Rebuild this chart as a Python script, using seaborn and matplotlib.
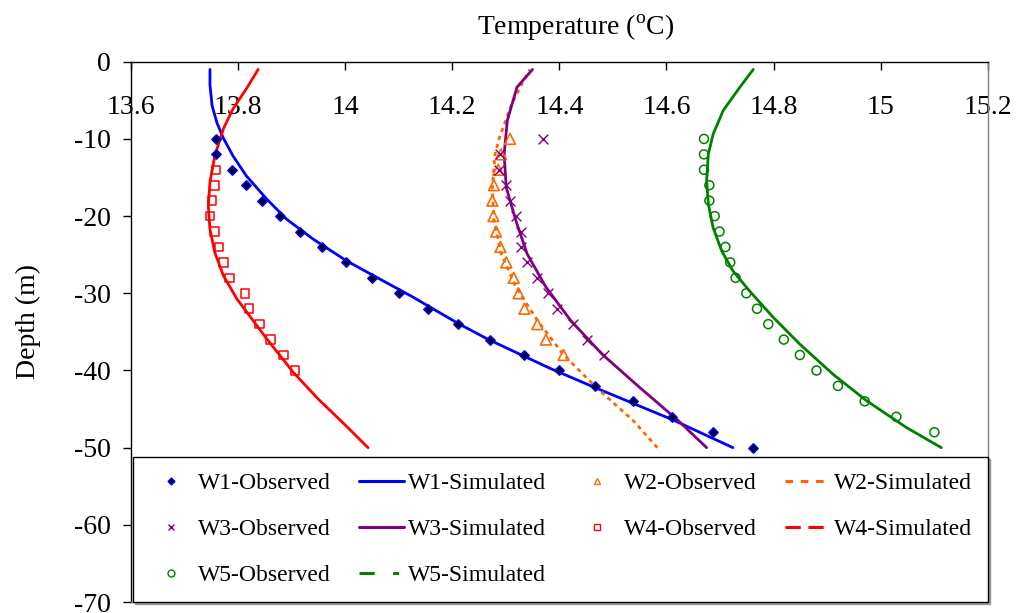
import matplotlib
matplotlib.use("Agg")
import matplotlib.pyplot as plt
from matplotlib.lines import Line2D
import seaborn as sns

# profondeurs des mesures observées (m)
depth_w1 = [-10, -12, -14, -16, -18, -20, -22, -24, -26, -28, -30,
            -32, -34, -36, -38, -40, -42, -44, -46, -48, -50]
depth_w23 = [-10, -12, -14, -16, -18, -20, -22, -24, -26, -28, -30,
             -32, -34, -36, -38]
depth_w4 = [-14, -16, -18, -20, -22, -24, -26, -28, -30, -32, -34,
            -36, -38, -40]
depth_w5 = [-10, -12, -14, -16, -18, -20, -22, -24, -26, -28, -30,
            -32, -34, -36, -38, -40, -42, -44, -46, -48]

# températures observées (°C)
w1_obs = [13.759, 13.759, 13.790, 13.815, 13.846, 13.879, 13.916, 13.958,
          14.002, 14.050, 14.101, 14.155, 14.211, 14.270, 14.334, 14.399,
          14.466, 14.537, 14.611, 14.686, 14.762]
w2_obs = [14.308, 14.291, 14.286, 14.278, 14.275, 14.277, 14.282, 14.290,
          14.301, 14.315, 14.324, 14.335, 14.359, 14.375, 14.408]
w3_obs = [14.370, 14.289, 14.288, 14.300, 14.308, 14.319, 14.328, 14.328,
          14.339, 14.359, 14.378, 14.396, 14.425, 14.452, 14.483]
w4_obs = [13.759, 13.757, 13.752, 13.748, 13.757, 13.765, 13.773, 13.784,
          13.813, 13.821, 13.840, 13.861, 13.885, 13.907]
w5_obs = [14.670, 14.670, 14.670, 14.680, 14.680, 14.690, 14.699, 14.710,
          14.719, 14.729, 14.749, 14.769, 14.790, 14.819, 14.849, 14.880,
          14.920, 14.970, 15.029, 15.100]

# courbes simulées (profondeur, température)
w1_sim_depth = [-1, -3, -5.7, -7.9, -9.9, -12.2, -14.8, -17.8, -20.4, -23.0,
                -25.8, -27.7, -30.5, -33.9, -36, -39.7, -42.2, -46.4, -50]
w1_sim = [13.748, 13.748, 13.752, 13.761, 13.773, 13.791, 13.816, 13.854,
          13.891, 13.941, 14.003, 14.053, 14.127, 14.211, 14.268, 14.382,
          14.466, 14.612, 14.724]
w2_sim_depth = [-1, -2.5, -5.5, -9.9, -12, -16.3, -20.6, -24.9, -29.2, -33.5,
                -37.9, -42.2, -46.5, -50]
w2_sim = [14.345, 14.333, 14.311, 14.288, 14.280, 14.275, 14.278, 14.292,
          14.319, 14.359, 14.407, 14.469, 14.538, 14.583]
w3_sim_depth = [-1, -3.3, -7.6, -12, -16.3, -20.6, -24.9, -29.2, -33.5,
                -37.9, -42.2, -46.5, -50]
w3_sim = [14.350, 14.321, 14.303, 14.297, 14.301, 14.319, 14.340, 14.375,
          14.421, 14.480, 14.550, 14.622, 14.675]
w4_sim_depth = [-1, -3.5, -6.1, -8.7, -12.2, -15.6, -18.7, -21.7, -24.7,
                -27.7, -30.7, -35.9, -40.2, -43.7, -46.9, -50]
w4_sim = [13.838, 13.816, 13.791, 13.773, 13.757, 13.748, 13.745, 13.748,
          13.757, 13.773, 13.798, 13.854, 13.903, 13.950, 13.998, 14.043]
w5_sim_depth = [-1, -3.3, -6.3, -9.4, -12.0, -15.4, -18.4, -21.5, -24.5,
                -27.1, -29.7, -33.1, -36.6, -40.5, -43.9, -47.4, -50]
w5_sim = [14.762, 14.737, 14.706, 14.687, 14.678, 14.675, 14.678, 14.687,
          14.703, 14.724, 14.755, 14.799, 14.849, 14.911, 14.973, 15.048,
          15.113]

x_ticks = [13.6, 13.8, 14.0, 14.2, 14.4, 14.6, 14.8, 15.0, 15.2]
x_labels = ["13.6", "13.8", "14", "14.2", "14.4", "14.6", "14.8", "15", "15.2"]
y_ticks = [0, -10, -20, -30, -40, -50, -60, -70]

BLUE, ORANGE, PURPLE, RED, GREEN = "#0000ff", "#ff6600", "#800080", "#ff0000", "#008000"

sns.set_theme(style="white")
plt.rcParams["font.family"] = ["Liberation Serif", "DejaVu Serif"]
plt.rcParams["mathtext.fontset"] = "custom"
plt.rcParams["mathtext.rm"] = "Liberation Serif"
plt.rcParams["axes.unicode_minus"] = False

fig = plt.figure(figsize=(10.16, 6.13), dpi=100)
ax = fig.add_axes([0.1286, 0.0179, 0.8438, 0.8814])

# courbes simulées
sns.lineplot(x=w1_sim, y=w1_sim_depth, orient="y", estimator=None, color=BLUE, lw=2, ax=ax)
sns.lineplot(x=w2_sim, y=w2_sim_depth, orient="y", estimator=None, color=ORANGE, lw=2,
             linestyle=(0, (1.5, 1.5)), ax=ax)
sns.lineplot(x=w3_sim, y=w3_sim_depth, orient="y", estimator=None, color=PURPLE, lw=2, ax=ax)
sns.lineplot(x=w4_sim, y=w4_sim_depth, orient="y", estimator=None, color=RED, lw=2, ax=ax)
sns.lineplot(x=w5_sim, y=w5_sim_depth, orient="y", estimator=None, color=GREEN, lw=2, ax=ax)

# points observés
sns.scatterplot(x=w1_obs, y=depth_w1, marker="D", s=22, color="black", edgecolor=BLUE,
                linewidth=1.2, zorder=3, ax=ax)
sns.scatterplot(x=w2_obs, y=depth_w23, marker="^", s=60, facecolor="none",
                edgecolor=ORANGE, linewidth=1.2, zorder=3, ax=ax)
sns.scatterplot(x=w3_obs, y=depth_w23, marker="x", s=50, color=PURPLE, linewidth=1.0,
                zorder=3, ax=ax)
sns.scatterplot(x=w4_obs, y=depth_w4, marker="s", s=38, facecolor="none",
                edgecolor=RED, linewidth=1.1, zorder=3, ax=ax)
sns.scatterplot(x=w5_obs, y=depth_w5, marker="o", s=42, facecolor="none",
                edgecolor=GREEN, linewidth=1.1, zorder=3, ax=ax)

# axes
ax.set_xlim(13.6, 15.2)
ax.set_ylim(-70, 0)
ax.set_xticks(x_ticks)
ax.set_xticklabels(x_labels)
ax.set_yticks(y_ticks)
ax.xaxis.tick_top()
ax.tick_params(axis="x", top=True, bottom=False, labeltop=True, labelbottom=False,
               direction="in", length=5.8, width=1, pad=-42, labelsize=20,
               colors="black")
ax.tick_params(axis="y", left=True, direction="out", length=5.5, width=1, pad=9,
               labelsize=20, colors="black")
ax.set_xlabel("")
ax.set_ylabel("Depth (m)", fontsize=20, color="black")
ax.yaxis.set_label_coords(-0.105, 0.519)
for side in ["left", "top"]:
    ax.spines[side].set_color("black")
    ax.spines[side].set_linewidth(1)
for side in ["right", "bottom"]:
    ax.spines[side].set_color("#808080")
    ax.spines[side].set_linewidth(1)

fig.text(0.567, 0.943, r"Temperature ($^{\rm o}$C)", ha="center", va="baseline",
         fontsize=20, color="black")

# légende (ordre colonne par colonne)
handles = [
    Line2D([], [], ls="none", marker="D", ms=3.5, mfc="black", mec=BLUE, mew=1),
    Line2D([], [], ls="none", marker="x", ms=5, mec=PURPLE, mew=1),
    Line2D([], [], ls="none", marker="o", ms=5, mfc="none", mec=GREEN, mew=1),
    Line2D([], [], color=BLUE, lw=2.2),
    Line2D([], [], color=PURPLE, lw=2.2),
    Line2D([], [], color=GREEN, lw=2.2, ls=(0, (5, 6, 2, 6))),
    Line2D([], [], ls="none", marker="^", ms=5, mfc="none", mec=ORANGE, mew=1),
    Line2D([], [], ls="none", marker="s", ms=5, mfc="none", mec=RED, mew=1),
    Line2D([], [], color=ORANGE, lw=2.2, ls=(0, (2.5, 2.5))),
    Line2D([], [], color=RED, lw=2.2, ls=(0, (5, 2.5))),
]
labels = ["W1-Observed", "W3-Observed", "W5-Observed",
          "W1-Simulated", "W3-Simulated", "W5-Simulated",
          "W2-Observed", "W4-Observed",
          "W2-Simulated", "W4-Simulated"]
leg = ax.legend(handles, labels, loc="lower left", bbox_to_anchor=(0.0027, 0.0, 0.9973, 0.3),
                mode="expand", ncol=4, fontsize=17, frameon=True, fancybox=False,
                edgecolor="black", framealpha=1, borderpad=0.66, labelspacing=1.04,
                handlelength=1.9, handletextpad=0.2, columnspacing=1.5, borderaxespad=0,
                shadow={"color": "0.6", "alpha": 1.0, "ox": 1.5, "oy": -1.5})
leg.get_frame().set_linewidth(1)
for t in leg.get_texts():
    t.set_color("black")

fig.savefig("out.png", dpi=100)
